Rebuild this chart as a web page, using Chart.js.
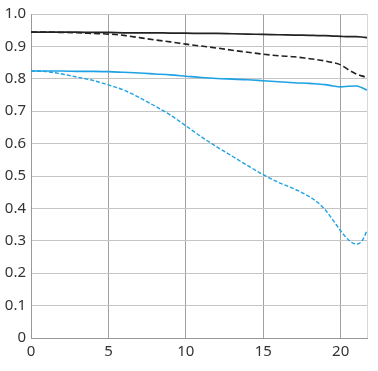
<!DOCTYPE html>
<html><head><meta charset="utf-8">
<script src="https://cdn.jsdelivr.net/npm/chart.js@4"></script>
<style>html,body{margin:0;padding:0;background:#fff;}#c{display:block;}</style>
</head><body>
<canvas id="c" width="378" height="371"></canvas>
<script>
const xs = [0,1,2,3,4,5,6,7,8,9,10,11,12,13,14,15,16,17,18,18.5,19,19.5,20,20.5,21,21.35,21.7];
const blackSolid = [0.944,0.944,0.944,0.944,0.943,0.943,0.942,0.942,0.942,0.941,0.941,0.940,0.940,0.939,0.938,0.937,0.936,0.935,0.934,0.9335,0.933,0.932,0.931,0.930,0.930,0.929,0.927];
const blackDashed = [0.944,0.944,0.943,0.942,0.940,0.938,0.934,0.927,0.920,0.914,0.907,0.901,0.895,0.888,0.882,0.876,0.871,0.868,0.862,0.859,0.855,0.850,0.843,0.828,0.815,0.809,0.805];
const blueSolid = [0.824,0.824,0.824,0.823,0.823,0.822,0.820,0.818,0.815,0.812,0.808,0.804,0.801,0.799,0.797,0.794,0.791,0.788,0.786,0.784,0.782,0.778,0.775,0.777,0.778,0.773,0.765];
const blueDashed = [0.824,0.822,0.815,0.805,0.795,0.781,0.765,0.742,0.716,0.688,0.655,0.621,0.590,0.561,0.532,0.504,0.480,0.460,0.436,0.419,0.396,0.364,0.331,0.303,0.290,0.298,0.331];
const xMax = 21.7;
const xTickValues = [0,5,10,15,20];
const xTickLabels = ['0','5','10','15','20'];
const yTickLabels = ['0','0.1','0.2','0.3','0.4','0.5','0.6','0.7','0.8','0.9','1.0'];

const pts = arr => arr.map((v,i)=>({x: xs[i], y: v}));
const BLUE = '#1ea2e4', BLACK = '#222222';

new Chart(document.getElementById('c'), {
  type: 'line',
  data: { datasets: [
    {data: pts(blueDashed), borderColor: BLUE, borderWidth: 1.4, borderDash:[4,2], pointRadius:0, cubicInterpolationMode:'monotone'},
    {data: pts(blueSolid), borderColor: BLUE, borderWidth: 1.6, pointRadius:0, cubicInterpolationMode:'monotone'},
    {data: pts(blackDashed), borderColor: BLACK, borderWidth: 1.6, borderDash:[6,3], pointRadius:0, cubicInterpolationMode:'monotone'},
    {data: pts(blackSolid), borderColor: BLACK, borderWidth: 1.7, pointRadius:0, cubicInterpolationMode:'monotone'}
  ]},
  options: {
    responsive: false, animation: false,
    layout: { padding: { top: 11, right: 11, left: 0, bottom: 0 } },
    plugins: { legend: {display:false}, tooltip: {enabled:false} },
    scales: {
      x: {
        type: 'linear', min: 0, max: xMax,
        afterBuildTicks: s => { s.ticks = xTickValues.concat([xMax]).map(v => ({value: v})); },
        afterFit: s => { s.height = 33; },
        border: { color: '#999999', width: 1 },
        grid: { drawTicks: false, lineWidth: 1,
          color: ctx => (ctx.tick && xTickValues.indexOf(ctx.tick.value) < 0) ? '#d8d8d8' : '#a0a0a0' },
        ticks: { padding: 5, color: '#333', font: {family: 'Noto Sans', size: 15},
          maxRotation: 0, autoSkip: false,
          callback: v => { const i = xTickValues.indexOf(v); return i >= 0 ? xTickLabels[i] : ''; } }
      },
      y: {
        min: 0, max: 1,
        afterFit: s => { s.width = 31; },
        border: { color: '#999999', width: 1 },
        grid: { drawTicks: false, color: '#c4c4c4', lineWidth: 1 },
        ticks: { stepSize: 0.1, padding: 5, color: '#333', font: {family: 'Noto Sans', size: 15},
          callback: v => yTickLabels[Math.round(v*10)] }
      }
    }
  }
});
</script>
</body></html>
